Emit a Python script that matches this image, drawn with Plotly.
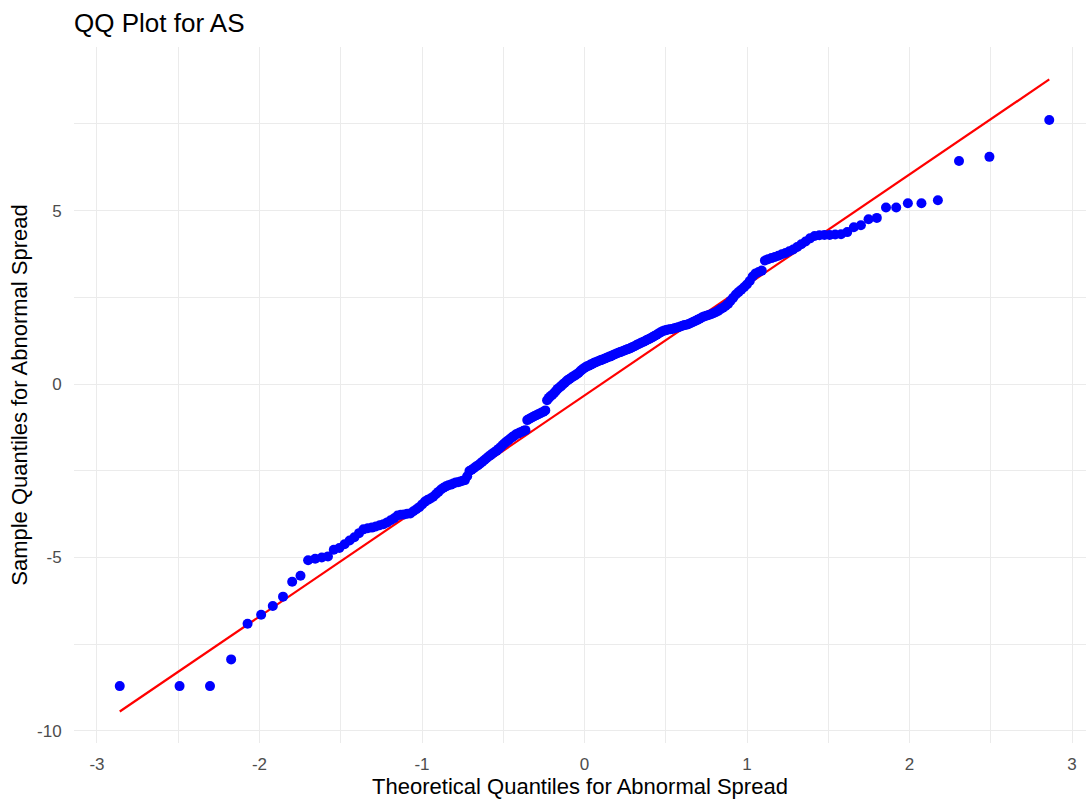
import plotly.graph_objects as go
from statistics import NormalDist

# Sorted sample values (Abnormal Spread)
sample_values = [
    -8.71, -8.71, -8.71, -7.94, -6.91, -6.65, -6.40, -6.13, -5.70, -5.53,
    -5.08, -5.04, -5.00, -4.97, -4.78, -4.73, -4.62, -4.51, -4.42, -4.30,
    -4.19, -4.16, -4.14, -4.11, -4.07, -4.04, -3.99, -3.93, -3.87, -3.79,
    -3.77, -3.76, -3.74, -3.73, -3.67, -3.61, -3.55, -3.47, -3.39, -3.34,
    -3.30, -3.25, -3.18, -3.11, -3.04, -2.99, -2.95, -2.92, -2.90, -2.87,
    -2.84, -2.83, -2.81, -2.79, -2.77, -2.66, -2.51, -2.47, -2.43, -2.38,
    -2.34, -2.29, -2.24, -2.19, -2.14, -2.09, -2.05, -2.00, -1.96, -1.92,
    -1.87, -1.82, -1.76, -1.71, -1.66, -1.62, -1.57, -1.53, -1.49, -1.45,
    -1.43, -1.40, -1.38, -1.35, -1.33, -1.04, -1.01, -0.98, -0.95, -0.92,
    -0.90, -0.87, -0.85, -0.82, -0.80, -0.76, -0.47, -0.40, -0.35, -0.31,
    -0.26, -0.20, -0.14, -0.10, -0.06, -0.01, 0.03, 0.08, 0.12, 0.15,
    0.19, 0.22, 0.25, 0.28, 0.32, 0.37, 0.41, 0.45,
    0.48, 0.51, 0.53, 0.56, 0.58, 0.61, 0.63, 0.65, 0.67, 0.69,
    0.71, 0.73, 0.75, 0.77, 0.79, 0.81, 0.84, 0.86, 0.88, 0.90,
    0.92, 0.94, 0.96, 0.98, 1.00, 1.02, 1.04, 1.07, 1.09, 1.12,
    1.15, 1.17, 1.20, 1.22, 1.25, 1.28, 1.30, 1.33, 1.36, 1.39,
    1.42, 1.46, 1.49, 1.52, 1.54, 1.56, 1.57, 1.58, 1.59, 1.61,
    1.62, 1.64, 1.66, 1.68, 1.70, 1.71, 1.73, 1.76, 1.79, 1.82,
    1.85, 1.88, 1.92, 1.95, 1.97, 1.99, 2.01, 2.04, 2.07, 2.11,
    2.16, 2.20, 2.25, 2.31, 2.40, 2.49, 2.58, 2.65, 2.72, 2.79,
    2.87, 2.97, 3.10, 3.19, 3.23, 3.27, 3.56, 3.60, 3.63, 3.66,
    3.70, 3.74, 3.78, 3.83, 3.88, 3.95, 4.03, 4.11, 4.20, 4.27,
    4.29, 4.30, 4.30, 4.31, 4.32, 4.38, 4.52, 4.58, 4.75, 4.79,
    5.09, 5.09, 5.21, 5.21, 5.30, 6.43, 6.55, 7.61,
]

# Reference line (qq line)
line_slope = 3.186
line_intercept = -0.33

x_tick_values = [-3, -2, -1, 0, 1, 2, 3]
x_tick_labels = ["-3", "-2", "-1", "0", "1", "2", "3"]
y_tick_values = [-10, -5, 0, 5]
y_tick_labels = ["-10", "-5", "0", "5"]

n = len(sample_values)
sample_sorted = sorted(sample_values)
theoretical = [NormalDist().inv_cdf((i + 0.5) / n) for i in range(n)]
line_x = [theoretical[0], theoretical[-1]]
line_y = [line_intercept + line_slope * v for v in line_x]

FONT = "Liberation Sans, Arial, sans-serif"

fig = go.Figure()
fig.add_trace(go.Scatter(
    x=line_x, y=line_y, mode="lines",
    line=dict(color="#FF0000", width=2.2),
    showlegend=False, hoverinfo="skip",
))
fig.add_trace(go.Scatter(
    x=theoretical, y=sample_sorted, mode="markers",
    marker=dict(color="#0000FF", size=10, line=dict(width=0)),
    showlegend=False,
))

grid = "#EBEBEB"
fig.update_layout(
    width=1086, height=799,
    margin=dict(l=74, r=0, t=47, b=56, pad=0),
    paper_bgcolor="white", plot_bgcolor="white",
    font=dict(family=FONT, color="black"),
    title=dict(
        text="QQ Plot for AS", x=0, xanchor="left", xref="paper",
        y=1 - 23 / 799, yanchor="middle", yref="container",
        font=dict(size=26, color="black", family=FONT),
    ),
    xaxis=dict(
        range=[-3.1415, 3.086], tickmode="array",
        tickvals=x_tick_values, ticktext=x_tick_labels,
        showgrid=True, gridcolor=grid, gridwidth=1.4,
        minor=dict(dtick=0.5, showgrid=True, gridcolor=grid, gridwidth=1.0),
        zeroline=False, showline=False,
        ticks="outside", ticklen=6, tickcolor="rgba(0,0,0,0)",
        tickfont=dict(size=17, color="#4D4D4D", family=FONT),
        title=dict(text="Theoretical Quantiles for Abnormal Spread",
                   font=dict(size=22, color="black", family=FONT), standoff=7),
        automargin=False,
    ),
    yaxis=dict(
        range=[-10.35, 9.717], tickmode="array",
        tickvals=y_tick_values, ticktext=y_tick_labels,
        showgrid=True, gridcolor=grid, gridwidth=1.4,
        minor=dict(dtick=2.5, showgrid=True, gridcolor=grid, gridwidth=1.0),
        zeroline=False, showline=False,
        ticks="outside", ticklen=8, tickcolor="rgba(0,0,0,0)",
        tickfont=dict(size=17, color="#4D4D4D", family=FONT),
        title=dict(text="Sample Quantiles for Abnormal Spread",
                   font=dict(size=22, color="black", family=FONT), standoff=3),
        automargin=False,
    ),
)

fig.write_html(
    "out.html",
    config={"displayModeBar": False},
    post_script="document.body.style.margin='0px';document.body.style.overflow='hidden';",
)
